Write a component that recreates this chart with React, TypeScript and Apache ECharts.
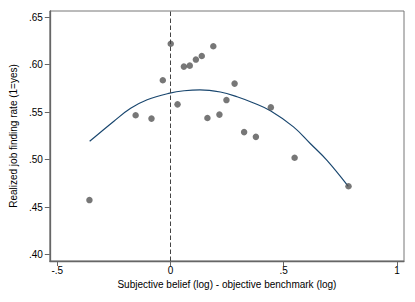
import React, { useEffect, useRef } from "react";
import * as echarts from "echarts";

const pointX = [-0.358, -0.154, -0.084, -0.034, 0.001, 0.031, 0.059, 0.085, 0.112, 0.138, 0.163, 0.189, 0.216, 0.247, 0.283, 0.325, 0.377, 0.443, 0.548, 0.786];
const pointY = [0.4575, 0.5467, 0.5432, 0.5835, 0.622, 0.5582, 0.5979, 0.5989, 0.6053, 0.609, 0.5438, 0.6193, 0.5474, 0.5627, 0.580, 0.529, 0.524, 0.555, 0.502, 0.472];

const fitX = [-0.357, -0.25, -0.176, -0.103, -0.003, 0.06, 0.13, 0.22, 0.294, 0.367, 0.443, 0.543, 0.617, 0.69, 0.785];
const fitY = [0.5193, 0.5405, 0.554, 0.563, 0.57, 0.5725, 0.5735, 0.5712, 0.5662, 0.5596, 0.5512, 0.5345, 0.517, 0.4995, 0.4719];

const xTicks = [-0.5, 0, 0.5, 1];
const yTicks = [0.40, 0.45, 0.50, 0.55, 0.60, 0.65];

const fmtX = (v: number) => (v === 0 ? "0" : String(v).replace(/^(-?)0\./, "$1."));
const fmtY = (v: number) => v.toFixed(2).replace(/^0/, "");

export default function App() {
  const ref = useRef<HTMLDivElement>(null);
  useEffect(() => {
    if (!ref.current) return;
    const chart = echarts.init(ref.current, null, { renderer: "svg" });
    const font = "'Liberation Sans', Arial, sans-serif";
    chart.setOption({
      animation: false,
      backgroundColor: "#ffffff",
      textStyle: { fontFamily: font },
      grid: {
        left: 49,
        right: 11,
        top: 11,
        bottom: 41,
        show: true,
        borderColor: "#777777",
        borderWidth: 1,
        backgroundColor: "#ffffff",
      },
      xAxis: {
        type: "value",
        min: -0.533,
        max: 1.031,
        name: "Subjective belief (log) - objective benchmark (log)",
        nameLocation: "middle",
        nameGap: 15,
        nameTextStyle: { fontSize: 10, color: "#000", fontFamily: font },
        axisLine: { show: true, onZero: false, lineStyle: { color: "#666666", width: 1.3 } },
        axisTick: { show: true, length: 5, customValues: xTicks, lineStyle: { color: "#666666" } },
        axisLabel: {
          customValues: xTicks,
          formatter: fmtX,
          fontSize: 10,
          color: "#000",
          margin: 4,
          fontFamily: font,
        },
        splitLine: { show: false },
      },
      yAxis: {
        type: "value",
        min: 0.3934,
        max: 0.6564,
        name: "Realized job finding rate (1=yes)",
        nameLocation: "middle",
        nameGap: 27,
        nameRotate: 90,
        nameTextStyle: { fontSize: 10, color: "#000", fontFamily: font },
        axisLine: { show: true, onZero: false, lineStyle: { color: "#666666", width: 1.3 } },
        axisTick: { show: true, length: 5, customValues: yTicks, lineStyle: { color: "#666666" } },
        axisLabel: {
          customValues: yTicks,
          formatter: fmtY,
          fontSize: 10,
          color: "#000",
          margin: 7,
          fontFamily: font,
        },
        splitLine: { show: false },
      },
      series: [
        {
          type: "scatter",
          data: pointX.map((x, i) => [x, pointY[i]]),
          symbolSize: 6.5,
          itemStyle: { color: "#555555" },
          markLine: {
            silent: true,
            symbol: "none",
            label: { show: false },
            lineStyle: { color: "#444444", type: [4.5, 2.5], width: 1 },
            data: [{ xAxis: 0 }],
          },
          z: 3,
        },
        {
          type: "line",
          data: fitX.map((x, i) => [x, fitY[i]]),
          smooth: 0.4,
          showSymbol: false,
          symbol: "none",
          lineStyle: { color: "#1a476f", width: 1.2 },
          z: 2,
        },
      ],
    });
    return () => chart.dispose();
  }, []);
  return (
    <div
      ref={ref}
      style={{ position: "fixed", left: 0, top: 0, width: 415, height: 302 }}
    />
  );
}
